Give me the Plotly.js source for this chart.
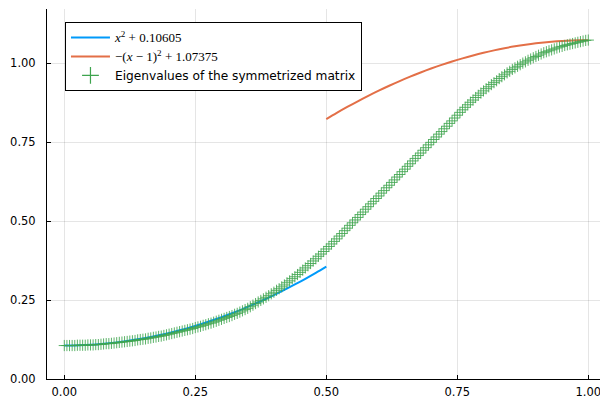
<!DOCTYPE html>
<html>
<head>
<meta charset="utf-8">
<script src="https://cdn.plot.ly/plotly-3.0.1.min.js"></script>
<style>html,body{margin:0;padding:0;background:#fff;}#chart{width:600px;height:401px;}</style>
</head>
<body>
<div id="chart"></div>
<script>
// Blue curve: x^2 + 0.10605 on [0, 0.5]
const blueX = [0,0.02,0.04,0.06,0.08,0.10,0.12,0.14,0.16,0.18,0.20,0.22,0.24,0.26,0.28,0.30,0.32,0.34,0.36,0.38,0.40,0.42,0.44,0.46,0.48,0.50];
const blueY = [0.10605,0.10645,0.10765,0.10965,0.11245,0.11605,0.12045,0.12565,0.13165,0.13845,0.14605,0.15445,0.16365,0.17365,0.18445,0.19605,0.20845,0.22165,0.23565,0.25045,0.26605,0.28245,0.29965,0.31765,0.33645,0.35605];
// Orange curve: -(x-1)^2 + 1.07375 on [0.5, 1]
const orangeX = [0.50,0.52,0.54,0.56,0.58,0.60,0.62,0.64,0.66,0.68,0.70,0.72,0.74,0.76,0.78,0.80,0.82,0.84,0.86,0.88,0.90,0.92,0.94,0.96,0.98,1.00];
const orangeY = [0.82375,0.84335,0.86215,0.88015,0.89735,0.91375,0.92935,0.94415,0.95815,0.97135,0.98375,0.99535,1.00615,1.01615,1.02535,1.03375,1.04135,1.04815,1.05415,1.05935,1.06375,1.06735,1.07015,1.07215,1.07335,1.07375];
// Eigenvalues, at x = 0.000, 0.005, ..., 1.000
const eigY = [
0.106,0.106,0.106,0.106,0.106,0.107,0.107,0.107,0.107,0.108,
0.108,0.108,0.109,0.109,0.110,0.111,0.112,0.112,0.113,0.114,
0.115,0.116,0.117,0.118,0.119,0.120,0.121,0.122,0.124,0.125,
0.126,0.127,0.129,0.130,0.132,0.133,0.135,0.136,0.138,0.140,
0.142,0.144,0.146,0.148,0.150,0.152,0.154,0.156,0.158,0.160,
0.163,0.165,0.167,0.170,0.172,0.175,0.177,0.180,0.183,0.186,
0.189,0.192,0.195,0.198,0.201,0.205,0.208,0.212,0.216,0.220,
0.224,0.229,0.234,0.239,0.244,0.249,0.254,0.259,0.264,0.270,
0.275,0.281,0.286,0.292,0.298,0.305,0.311,0.318,0.324,0.331,
0.338,0.345,0.352,0.359,0.366,0.374,0.381,0.389,0.396,0.404,
0.412,0.420,0.428,0.436,0.444,0.453,0.461,0.470,0.478,0.487,
0.495,0.504,0.512,0.521,0.529,0.538,0.546,0.555,0.563,0.572,
0.580,0.589,0.597,0.606,0.614,0.623,0.631,0.640,0.648,0.657,
0.665,0.674,0.682,0.691,0.699,0.708,0.716,0.725,0.733,0.742,
0.750,0.759,0.767,0.776,0.784,0.793,0.801,0.810,0.818,0.827,
0.836,0.845,0.853,0.861,0.869,0.877,0.884,0.892,0.899,0.906,
0.913,0.920,0.926,0.933,0.939,0.945,0.952,0.958,0.964,0.970,
0.975,0.981,0.986,0.991,0.996,1.001,1.005,1.010,1.014,1.018,
1.022,1.026,1.030,1.034,1.037,1.040,1.043,1.046,1.049,1.052,
1.054,1.057,1.059,1.061,1.063,1.065,1.067,1.069,1.071,1.073,
1.074];
const eigX = eigY.map((_, i) => i / (eigY.length - 1));

const tickVals = [0, 0.25, 0.5, 0.75, 1];
const tickText = ["0.00", "0.25", "0.50", "0.75", "1.00"];

const serif = 'font-family:Liberation Serif;font-size:13px;';
const green = '#3EA44E';
const traces = [
  {x: blueX, y: blueY, mode: 'lines', type: 'scatter',
   name: '<span style="' + serif + '"><i>x</i><sup>2</sup> + 0.10605</span>',
   line: {color: '#009AFA', width: 2, shape: 'spline'}},
  {x: orangeX, y: orangeY, mode: 'lines', type: 'scatter',
   name: '<span style="' + serif + '">\u2212(<i>x</i> \u2212 1)<sup>2</sup> + 1.07375</span>',
   line: {color: '#E36F47', width: 2, shape: 'spline'}},
  {x: eigX, y: eigY, mode: 'markers', type: 'scatter', showlegend: false,
   name: 'Eigenvalues of the symmetrized matrix',
   marker: {symbol: 'cross-thin-open', size: 8, color: green, opacity: 0.85, line: {color: green, width: 1}}},
  // legend entry only (larger symbol, as in the reference legend)
  {x: [null], y: [null], mode: 'markers', type: 'scatter',
   name: 'Eigenvalues of the symmetrized matrix',
   marker: {symbol: 'cross-thin-open', size: 12, color: green, line: {color: green, width: 1.2}}}
];

const axisCommon = {
  showline: true, linecolor: '#000', linewidth: 1, mirror: false,
  ticks: 'inside', ticklen: 4, tickcolor: '#000', tickwidth: 1,
  showgrid: true, gridcolor: 'rgba(0,0,0,0.1)', gridwidth: 1,
  zeroline: false,
  tickmode: 'array', tickvals: tickVals, ticktext: tickText,
  ticklabeloverflow: 'allow',
  tickfont: {family: 'DejaVu Sans', size: 11.5, color: '#000'}
};

const layout = {
  width: 600, height: 401,
  margin: {l: 47, r: 0, t: 9, b: 22, pad: 0},
  paper_bgcolor: '#fff', plot_bgcolor: '#fff',
  showlegend: true,
  xaxis: Object.assign({}, axisCommon, {range: [-0.0330, 1.0223], ticklabelstandoff: 2}),
  yaxis: Object.assign({}, axisCommon, {range: [0, 1.1725], ticklabelstandoff: 8}),
  legend: {
    x: 0.0325, y: 0.965, xanchor: 'left', yanchor: 'top',
    bordercolor: '#000', borderwidth: 1, bgcolor: '#fff',
    font: {family: 'DejaVu Sans', size: 12.2, color: '#000'},
    itemwidth: 39, tracegroupgap: 0
  }
};

Plotly.newPlot('chart', traces, layout, {displayModeBar: false, staticPlot: true});
</script>
</body>
</html>
